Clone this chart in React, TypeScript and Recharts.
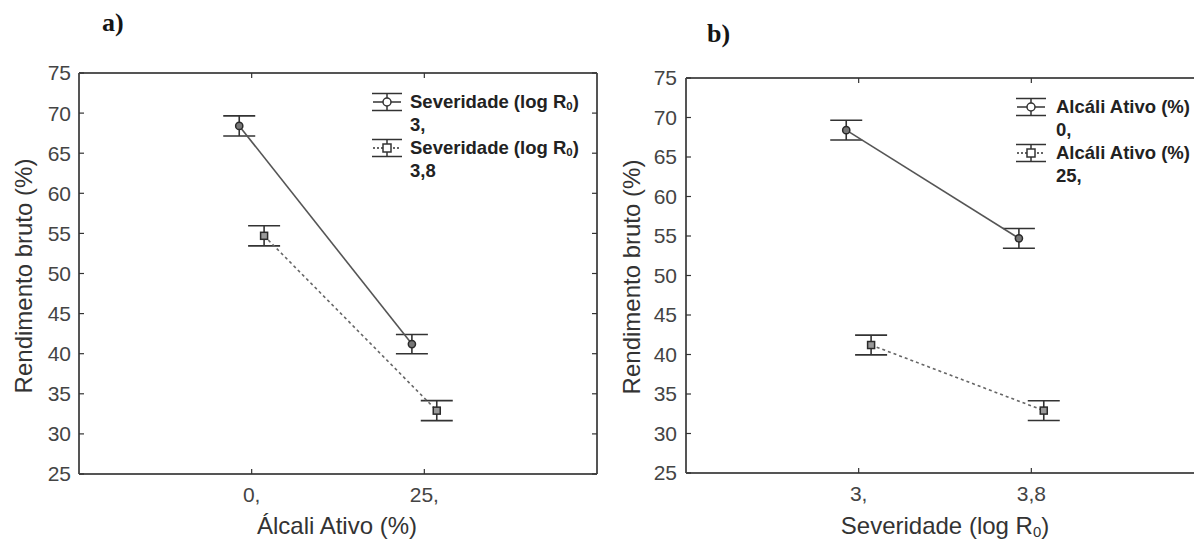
import React from 'react';
import { ComposedChart, Line, XAxis, YAxis, ErrorBar, Legend } from 'recharts';

// ---------- data ----------
const yTicks = [25, 30, 35, 40, 45, 50, 55, 60, 65, 70, 75];

// Panel a) x: Álcali Ativo (%) ; series: Severidade (log R0)
const panelACategories = ['0,', '25,'];
const panelASev3 = [68.4, 41.2];
const panelASev3Err = [1.25, 1.2];
const panelASev38 = [54.7, 32.9];
const panelASev38Err = [1.25, 1.25];
const panelALevels = ['3,', '3,8'];

// Panel b) x: Severidade (log R0) ; series: Álcali Ativo (%)
const panelBCategories = ['3,', '3,8'];
const panelBAlc0 = [68.4, 54.7];
const panelBAlc0Err = [1.25, 1.25];
const panelBAlc25 = [41.2, 32.9];
const panelBAlc25Err = [1.25, 1.25];
const panelBLevels = ['0,', '25,'];

// horizontal jitter of the two series around each category (category units)
const JITTER = 0.072;

const toRows = (vals: number[], errs: number[], shift: number) =>
  vals.map((v, i) => ({ x: i + shift, y: v, err: errs[i] }));

// ---------- styles ----------
const FONT = '"Liberation Sans", Arial, Helvetica, sans-serif';
const AXIS = '#555';
const INK = '#333';
const axisLineStyle = { stroke: AXIS, strokeWidth: 2 };
const tickLineStyle = { stroke: '#333', strokeWidth: 1.2 };

const CircleDot = (props: any) => {
  const { cx, cy } = props;
  if (cx == null || cy == null) return <g />;
  return <circle cx={cx} cy={cy} r={3.6} fill="#777" stroke="#2a2a2a" strokeWidth={1.5} />;
};
const SquareDot = (props: any) => {
  const { cx, cy } = props;
  if (cx == null || cy == null) return <g />;
  return <rect x={cx - 3.5} y={cy - 3.5} width={7} height={7} fill="#999" stroke="#2a2a2a" strokeWidth={1.5} />;
};

const LegendIcon = ({ dotted, square }: { dotted: boolean; square: boolean }) => (
  <svg width={30} height={20} style={{ display: 'block' }}>
    <line x1={0} x2={30} y1={1.5} y2={1.5} stroke={INK} strokeWidth={1.5} />
    <line x1={0} x2={30} y1={18.5} y2={18.5} stroke={INK} strokeWidth={1.5} />
    <line x1={15} x2={15} y1={1.5} y2={18.5} stroke={INK} strokeWidth={1.5} />
    <line x1={1} x2={29} y1={10} y2={10} stroke={INK} strokeWidth={1.5} strokeDasharray={dotted ? '2 2' : undefined} />
    {square ? (
      <rect x={11} y={6} width={8} height={8} fill="#fff" stroke={INK} strokeWidth={1.5} />
    ) : (
      <circle cx={15} cy={10} r={4} fill="#fff" stroke={INK} strokeWidth={1.5} />
    )}
  </svg>
);

const LegendBox = ({ title, levels, gap }: { title: React.ReactNode; levels: string[]; gap: number }) => {
  const lineStyle: React.CSSProperties = { height: 23, lineHeight: '23px', whiteSpace: 'nowrap' };
  return (
    <div style={{ fontFamily: FONT, fontWeight: 700, fontSize: 18.5, color: '#222' }}>
      {levels.map((lv, i) => (
        <div key={i}>
          <div style={{ ...lineStyle, display: 'flex', alignItems: 'center' }}>
            <div style={{ width: 30, marginRight: gap }}>
              <LegendIcon dotted={i === 1} square={i === 1} />
            </div>
            <span>{title}</span>
          </div>
          <div style={{ ...lineStyle, paddingLeft: 30 + gap }}>{lv}</div>
        </div>
      ))}
    </div>
  );
};

type PanelProps = {
  left: number;
  width: number;
  margin: { top: number; right: number; bottom: number; left: number };
  yAxisWidth: number;
  xAxisHeight: number;
  categories: string[];
  s1: number[];
  s1Err: number[];
  s2: number[];
  s2Err: number[];
  legendTitle: React.ReactNode;
  levels: string[];
  legendPos: { top: number; left: number };
  legendGap: number;
  yTickMargin: number;
};

const Panel = (p: PanelProps) => {
  const d1 = toRows(p.s1, p.s1Err, -JITTER);
  const d2 = toRows(p.s2, p.s2Err, JITTER);
  const tickStyle = { fill: '#444', fontSize: 21, fontFamily: FONT };
  return (
    <div style={{ position: 'absolute', left: p.left, top: 0 }}>
      <ComposedChart width={p.width} height={542} margin={p.margin}>
        <XAxis
          xAxisId="b"
          type="number"
          dataKey="x"
          domain={[-1, 2]}
          ticks={[0, 1]}
          interval={0}
          allowDataOverflow
          tickFormatter={(v: number) => p.categories[v] ?? ''}
          height={p.xAxisHeight}
          tickSize={-5}
          tickMargin={18}
          axisLine={axisLineStyle}
          tickLine={tickLineStyle}
          tick={tickStyle}
        />
        <XAxis
          xAxisId="t"
          orientation="top"
          type="number"
          dataKey="x"
          domain={[-1, 2]}
          ticks={[0, 1]}
          interval={0}
          allowDataOverflow
          tickFormatter={() => ''}
          height={1}
          tickSize={-5}
          axisLine={axisLineStyle}
          tickLine={tickLineStyle}
        />
        <YAxis
          yAxisId="l"
          type="number"
          domain={[25, 75]}
          ticks={yTicks}
          interval={0}
          allowDataOverflow
          width={p.yAxisWidth}
          tickSize={-5}
          tickMargin={p.yTickMargin}
          axisLine={axisLineStyle}
          tickLine={tickLineStyle}
          tick={tickStyle}
        />
        <YAxis
          yAxisId="r"
          orientation="right"
          type="number"
          domain={[25, 75]}
          ticks={yTicks}
          interval={0}
          allowDataOverflow
          width={1}
          tickSize={-5}
          tickFormatter={() => ''}
          axisLine={axisLineStyle}
          tickLine={tickLineStyle}
        />
        <Legend
          layout="horizontal"
          verticalAlign="middle"
          align="center"
          wrapperStyle={{ top: p.legendPos.top, left: p.legendPos.left, width: 260, height: 92 }}
          content={() => <LegendBox title={p.legendTitle} levels={p.levels} gap={p.legendGap} />}
        />
        <Line
          xAxisId="b"
          yAxisId="l"
          data={d1}
          dataKey="y"
          type="linear"
          stroke="#555"
          strokeWidth={1.6}
          dot={CircleDot}
          activeDot={false}
          isAnimationActive={false}
        >
          <ErrorBar dataKey="err" width={16} stroke="#333" strokeWidth={1.6} direction="y" />
        </Line>
        <Line
          xAxisId="b"
          yAxisId="l"
          data={d2}
          dataKey="y"
          type="linear"
          stroke="#666"
          strokeWidth={1.6}
          strokeDasharray="3 3"
          dot={SquareDot}
          activeDot={false}
          isAnimationActive={false}
        >
          <ErrorBar dataKey="err" width={16} stroke="#333" strokeWidth={1.6} direction="y" />
        </Line>
      </ComposedChart>
    </div>
  );
};

const axisTitle: React.CSSProperties = {
  position: 'absolute',
  width: 400,
  height: 24,
  lineHeight: '24px',
  fontSize: 24,
  fontFamily: FONT,
  color: '#333',
  textAlign: 'center',
  whiteSpace: 'nowrap',
};

const subStyle: React.CSSProperties = { fontSize: '0.62em', verticalAlign: '-0.2em', lineHeight: 0 };

const panelLabel: React.CSSProperties = {
  position: 'absolute',
  fontFamily: '"Liberation Serif", "Times New Roman", serif',
  fontWeight: 700,
  fontSize: 26,
  lineHeight: '26px',
  color: '#151515',
};

export default function App() {
  return (
    <div
      style={{
        position: 'absolute',
        left: 0,
        top: 0,
        width: 1194,
        height: 542,
        overflow: 'hidden',
        background: '#fff',
      }}
    >
      <Panel
        left={0}
        width={620}
        margin={{ top: 72, right: 22, bottom: 0, left: 0 }}
        yAxisWidth={79}
        xAxisHeight={68}
        categories={panelACategories}
        s1={panelASev3}
        s1Err={panelASev3Err}
        s2={panelASev38}
        s2Err={panelASev38Err}
        legendTitle={<>Severidade (log R<sub style={subStyle}>0</sub>)</>}
        levels={panelALevels}
        legendPos={{ top: 90, left: 372 }}
        legendGap={8}
        yTickMargin={13}
      />
      <Panel
        left={600}
        width={620}
        margin={{ top: 77, right: 15, bottom: 0, left: 0 }}
        yAxisWidth={86}
        xAxisHeight={69}
        categories={panelBCategories}
        s1={panelBAlc0}
        s1Err={panelBAlc0Err}
        s2={panelBAlc25}
        s2Err={panelBAlc25Err}
        legendTitle={<>Alcáli Ativo (%)</>}
        levels={panelBLevels}
        legendPos={{ top: 95, left: 416 }}
        legendGap={10}
        yTickMargin={14}
      />

      {/* panel labels */}
      <div style={{ ...panelLabel, left: 102, top: 10 }}>a)</div>
      <div style={{ ...panelLabel, left: 707, top: 21 }}>b)</div>

      {/* y axis titles */}
      <div style={{ ...axisTitle, left: 24 - 200, top: 276 - 12, transform: 'rotate(-90deg)' }}>
        Rendimento bruto (%)
      </div>
      <div style={{ ...axisTitle, left: 632 - 200, top: 277 - 12, transform: 'rotate(-90deg)' }}>
        Rendimento bruto (%)
      </div>

      {/* x axis titles */}
      <div style={{ ...axisTitle, left: 337 - 200, top: 514 }}>Álcali Ativo (%)</div>
      <div style={{ ...axisTitle, left: 945 - 200, top: 514 }}>
        Severidade (log R<sub style={subStyle}>0</sub>)
      </div>
    </div>
  );
}
